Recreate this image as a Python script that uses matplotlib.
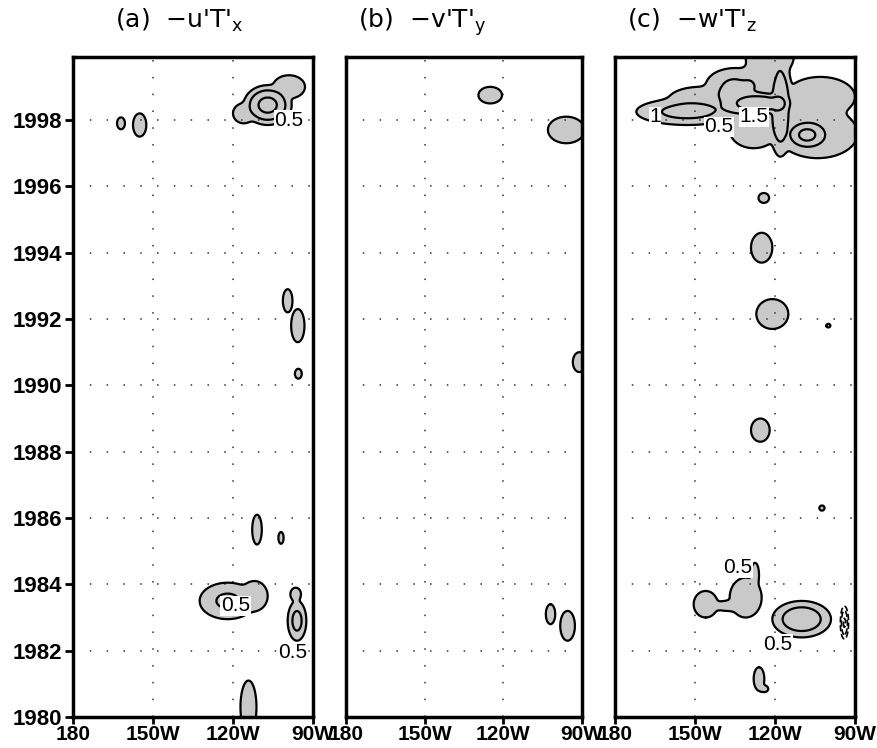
import numpy as np
import matplotlib
matplotlib.use("Agg")
import matplotlib.pyplot as plt

# panel titles and axis labels
titles = ["(a)  \u2212u'T'$_{\\mathregular{x}}$",
          "(b)  \u2212v'T'$_{\\mathregular{y}}$",
          "(c)  \u2212w'T'$_{\\mathregular{z}}$"]
xticks = [180, 210, 240, 270]
xticklabels = ["180", "150W", "120W", "90W"]
yticks = list(range(1980, 2000, 2))

# blobs: lon (deg E), year, amplitude, half-size lon, half-size year
a_lon = [253, 261, 244, 198, 205, 260.5, 264.3, 264.5, 249, 258, 238, 248, 263.5, 264, 245.8]
a_yr = [1998.45, 1999.0, 1998.2, 1997.9, 1997.85, 1992.55, 1991.8, 1990.35, 1985.65, 1985.4,
        1983.5, 1983.65, 1983.7, 1982.9, 1980.3]
a_amp = [1.6, 0.8, 0.7, 0.65, 0.7, 0.7, 0.75, 0.6, 0.7, 0.6, 1.05, 0.85, 0.65, 1.1, 0.9]
a_dx = [9, 6, 4, 1.5, 2.5, 1.8, 2.5, 1.3, 1.8, 1.0, 10.5, 5, 2, 3.5, 3]
a_dy = [0.6, 0.35, 0.3, 0.18, 0.35, 0.35, 0.5, 0.15, 0.45, 0.18, 0.55, 0.45, 0.2, 0.6, 0.8]

b_lon = [235, 264, 269, 258, 264.5]
b_yr = [1998.75, 1997.7, 1990.7, 1983.1, 1982.75]
b_amp = [0.7, 0.9, 0.7, 0.7, 0.75]
b_dx = [4.5, 7, 2.5, 1.8, 2.8]
b_dy = [0.25, 0.4, 0.3, 0.3, 0.45]

c_lon = [207, 212, 222, 226, 234, 233, 232, 242, 238, 256, 252, 257,
         235.8, 235, 239, 260, 234.5, 257.6,
         214, 222, 229, 232.5, 250, 266, 234, 236]
c_yr = [1998.25, 1998.6, 1999.0, 1998.7, 1998.5, 1999.2, 1997.7, 1998.4, 1999.9, 1997.6,
        1997.55, 1998.7,
        1995.65, 1994.15, 1992.15, 1991.8, 1988.65, 1986.3,
        1983.4, 1983.35, 1983.6, 1984.3, 1982.95, 1982.85, 1981.15, 1980.85]
c_amp = [1.1, 0.8, 0.85, 1.1, 1.8, 0.9, 0.9, 1.4, 0.9, 0.9, 1.55, 0.8,
         0.6, 0.8, 0.85, 0.55, 0.75, 0.55,
         0.8, 0.65, 0.8, 0.7, 1.3, -1.6, 0.7, 0.6]
c_dx = [19, 12, 8, 10, 14, 6, 9, 4.5, 9, 15, 8, 13,
        2.0, 4, 6, 0.8, 3.5, 1.0,
        4.5, 5, 6, 1.5, 11, 1.6, 2, 1.5]
c_dy = [0.4, 0.4, 0.5, 0.85, 0.4, 0.5, 0.55, 1.5, 0.6, 0.75, 0.45, 0.6,
        0.15, 0.45, 0.45, 0.06, 0.35, 0.08,
        0.4, 0.15, 0.6, 0.35, 0.55, 0.5, 0.35, 0.1]

# where the contour labels sit: lon, year, text
a_lab = [(261, 1998.0, "0.5"), (241, 1983.35, "0.5"), (262.5, 1981.95, "0.5")]
b_lab = []
c_lab = [(195, 1998.1, "1"), (219, 1997.8, "0.5"), (232, 1998.1, "1.5"),
         (226, 1984.5, "0.5"), (241, 1982.2, "0.5")]

panels = [(a_lon, a_yr, a_amp, a_dx, a_dy, a_lab),
          (b_lon, b_yr, b_amp, b_dx, b_dy, b_lab),
          (c_lon, c_yr, c_amp, c_dx, c_dy, c_lab)]

lon = np.arange(180, 272, 0.4)
yr = np.arange(1980, 2000.01, 1.0 / 30)
LON, YR = np.meshgrid(lon, yr)


def build_field(lc, yc, amp, dx, dy, p=3, n=4):
    # soft union of the blobs so that they merge smoothly
    pos = np.zeros_like(LON)
    neg = np.zeros_like(LON)
    for x0, y0, A, ex, ey in zip(lc, yc, amp, dx, dy):
        r = np.sqrt(((LON - x0) / ex) ** 2 + ((YR - y0) / ey) ** 2)
        g = abs(A) * np.exp(-np.log(2 * abs(A)) * r ** p)
        if A > 0:
            pos += g ** n
        else:
            neg += g ** n
    return pos ** (1.0 / n) - neg ** (1.0 / n)


plt.rcParams['font.family'] = ['Liberation Sans', 'DejaVu Sans']

fig = plt.figure(figsize=(8.77, 7.48), dpi=100)
lefts = [73 / 877, 346 / 877, 615 / 877]
widths = [240 / 877, 236 / 877, 240 / 877]
bottom = 31 / 748
height = 660 / 748

for k, (lc, yc, amp, dx, dy, labs) in enumerate(panels):
    ax = fig.add_axes([lefts[k], bottom, widths[k], height])
    f = build_field(lc, yc, amp, dx, dy)
    ax.contourf(LON, YR, f, levels=[0.5, 100], colors=['#c9c9c9'])
    ax.contour(LON, YR, f, levels=[0.5, 1.0, 1.5, 2.0], colors='k', linewidths=1.6)
    if f.min() < -0.5:
        ax.contour(LON, YR, f, levels=[-1.5, -1.0, -0.5], colors='k',
                   linewidths=1.2, linestyles='--')
    for x0, y0, t in labs:
        ax.text(x0, y0, t, fontsize=15, ha='center', va='center',
                bbox=dict(facecolor='white', edgecolor='none', pad=0.5))

    ax.set_xlim(180, 270)
    ax.set_ylim(1980, 1999.9)
    ax.set_xticks(xticks)
    ax.set_xticklabels(xticklabels, fontsize=15, fontweight='bold')
    ax.set_yticks(yticks)
    if k == 0:
        ax.set_yticklabels([str(y) for y in yticks], fontsize=16, fontweight='bold')
        ax.tick_params(axis='y', direction='out', length=6, width=2, pad=2)
    else:
        ax.tick_params(axis='y', left=False, labelleft=False)
    ax.tick_params(axis='x', direction='out', length=5, width=2, pad=0.5)
    ax.grid(True, color='#333333', linestyle=(0, (1, 10)), linewidth=1.1)
    for sp in ax.spines.values():
        sp.set_linewidth(2.5)
    ax.text(0.175 if k == 0 else 0.05, 1.044, titles[k], transform=ax.transAxes,
            fontsize=18, ha='left', va='baseline', family=['DejaVu Sans'])

fig.savefig("out.png", dpi=100)
